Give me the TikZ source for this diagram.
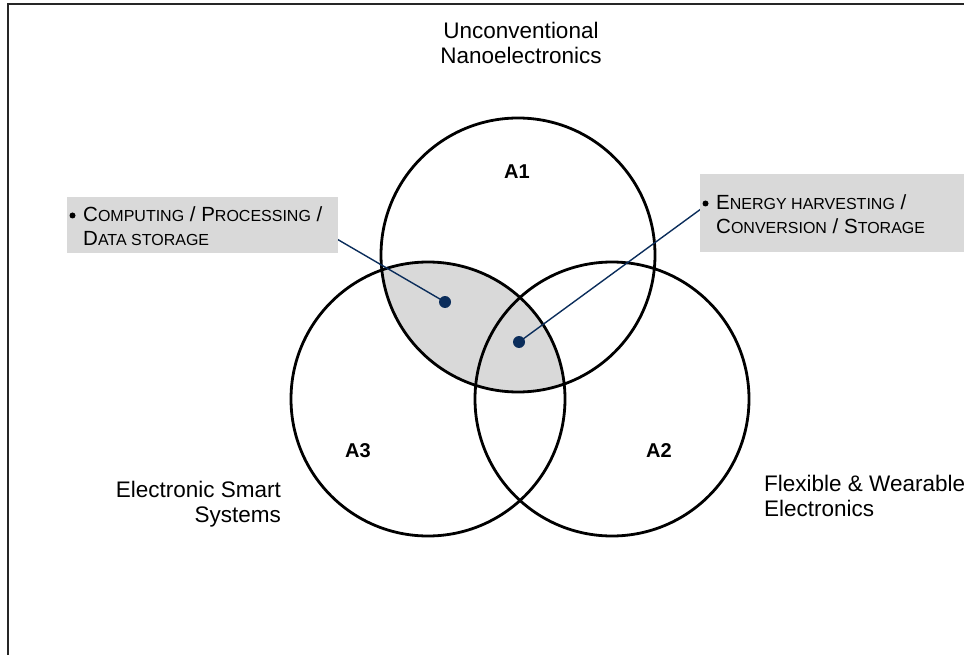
\documentclass[tikz,border=0pt]{standalone}
\usepackage{fontspec}
\setmainfont{Liberation Sans}
\definecolor{lensgray}{HTML}{D9D9D9}
\definecolor{navy}{HTML}{0B2D5B}
\newcommand\smc[1]{{\fontsize{16}{18}\selectfont #1}}
\begin{document}
\begin{tikzpicture}[x=1pt,y=-1pt,
  ring/.style={draw=black,line width=2.8pt},
  infobox/.style={fill=lensgray,draw=none},
  leader/.style={draw=navy,line width=1.4pt},
  pin/.style={fill=navy},
  dotmark/.style={fill=black},
  tag/.style={font=\fontsize{20}{24}\selectfont\bfseries,inner sep=0pt},
  field/.style={font=\fontsize{22.5}{25}\selectfont,inner sep=0pt},
  bulletline/.style={font=\fontsize{20.5}{23}\selectfont,inner sep=0pt,anchor=base west}]
\useasboundingbox (0,0) rectangle (964,655);
% frame
\draw[line width=2pt,draw=black!85] (8,700) -- (8,4) -- (1000,4);

% shaded lens A1 ∩ A3
\begin{scope}
  \clip (518,255) circle[radius=137pt];
  \fill[lensgray] (428,399) circle[radius=137pt];
\end{scope}

% circles
\draw[ring] (518,255) circle[radius=137pt];
\draw[ring] (428,399) circle[radius=137pt];
\draw[ring] (612,399) circle[radius=137pt];

% circle tags
\node[tag] (a1) at (517,172) {A1};
\node[tag] (a3) at (358,451) {A3};
\node[tag] (a2) at (659,451) {A2};

% field labels
\node[field,align=center] (top) at (521,43) {Unconventional\\Nanoelectronics};
\node[field,align=right,anchor=north east] (left) at (281,481) {Electronic Smart\\Systems};
\node[field,align=left,anchor=north west] (right) at (764,475) {Flexible \& Wearable\\Electronics};

% leader lines
\coordinate (p1) at (445,302);
\coordinate (p2) at (519,342);
\coordinate (e1) at (330,235);
\coordinate (e2) at (705,206);
\draw[leader] (p1) -- (e1);
\draw[leader] (p2) -- (e2);

% info boxes
\fill[infobox] (67,197) rectangle (338,253);
\fill[infobox] (700,174) rectangle (966,252);
\fill[dotmark] (72.5,215.5) circle[radius=3pt];
\fill[dotmark] (705.5,203.5) circle[radius=3pt];
\node[bulletline] (b1) at (83,222) {C\smc{OMPUTING} / P\smc{ROCESSING} /};
\node[bulletline] (b1b) at (83,246) {D\smc{ATA STORAGE}};
\node[bulletline] (b2) at (716,210) {E\smc{NERGY HARVESTING} /};
\node[bulletline] (b2b) at (716,234) {C\smc{ONVERSION} / S\smc{TORAGE}};

% pins
\fill[pin] (p1) circle[radius=6pt];
\fill[pin] (p2) circle[radius=6pt];
\end{tikzpicture}
\end{document}
